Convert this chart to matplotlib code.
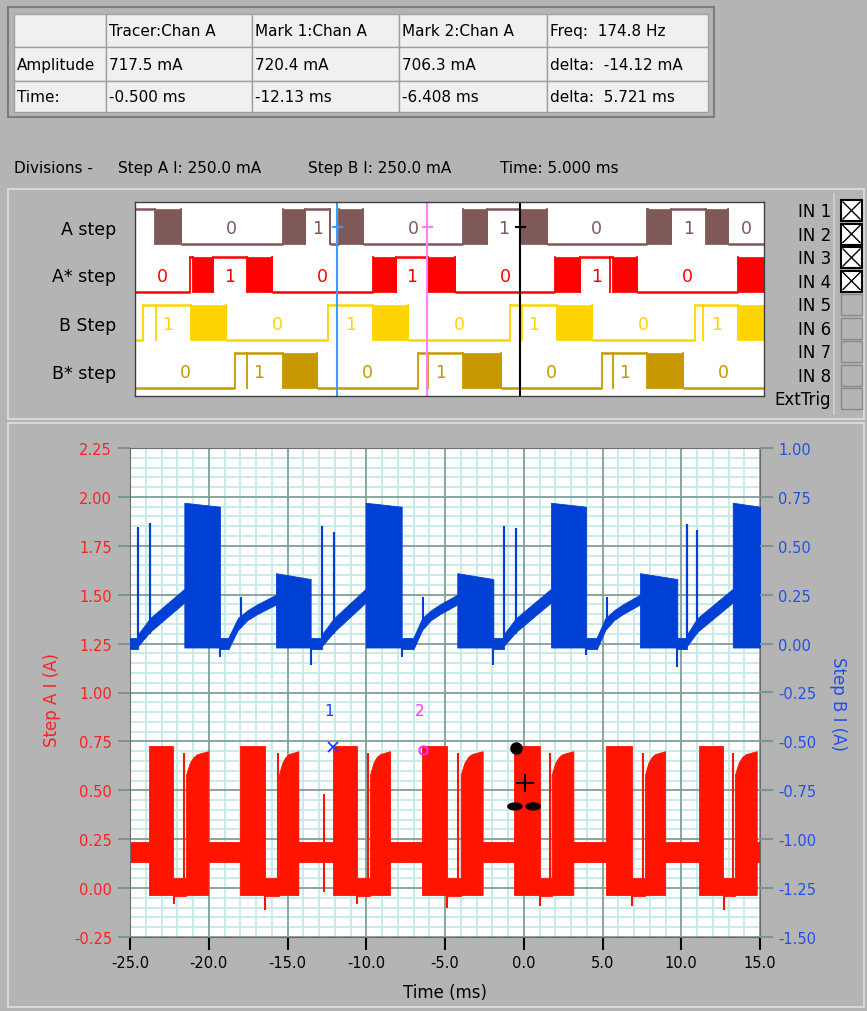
import matplotlib.pyplot as plt
import numpy as np
from matplotlib.patches import Rectangle, Ellipse
from matplotlib.ticker import MultipleLocator, FormatStrFormatter

W, H = 867, 1012
plt.rcParams['font.family'] = 'DejaVu Sans'

# readout table
col_head = ["", "Tracer:Chan A", "Mark 1:Chan A", "Mark 2:Chan A", "Freq:  174.8 Hz"]
amp_row = ["Amplitude", "717.5 mA", "720.4 mA", "706.3 mA", "delta:  -14.12 mA"]
time_row = ["Time:", "-0.500 ms", "-12.13 ms", "-6.408 ms", "delta:  5.721 ms"]
div_text = ["Divisions -", "Step A I: 250.0 mA", "Step B I: 250.0 mA", "Time: 5.000 ms"]

# cursors (ms, A)
tracer_t, tracer_amp = -0.5, 0.7175
mark1_t, mark1_amp = -12.13, 0.7204
mark2_t, mark2_amp = -6.408, 0.7063

# digital lines: (start ms, end ms, state)  L=low, H=high, F=fast toggling
row_names = ["A step", "A* step", "B Step", "B* step"]
a_step = [(-25.0, -23.73, 'H'), (-23.73, -22.07, 'F'), (-22.07, -15.61, 'L'), (-15.61, -14.19, 'F'),
          (-14.19, -12.6, 'H'), (-12.6, -12.03, 'L'), (-12.03, -10.52, 'F'), (-10.52, -4.12, 'L'),
          (-4.12, -2.63, 'F'), (-2.63, -0.52, 'H'), (-0.52, 1.18, 'F'), (1.18, 7.54, 'L'),
          (7.54, 7.62, 'H'), (7.62, 9.07, 'F'), (9.07, 11.31, 'H'), (11.31, 12.71, 'F'), (12.71, 15.0, 'L')]
a_step_glitch = [-12.6]
a_star = [(-25.0, -21.5, 'L'), (-21.5, -21.29, 'H'), (-21.29, -20.02, 'F'), (-20.02, -17.9, 'H'),
          (-17.9, -16.31, 'F'), (-16.31, -9.88, 'L'), (-9.88, -8.4, 'F'), (-8.4, -6.37, 'H'),
          (-6.37, -4.65, 'F'), (-4.65, 1.71, 'L'), (1.71, 3.3, 'F'), (3.3, 5.38, 'H'),
          (5.38, 6.94, 'F'), (6.94, 13.37, 'L'), (13.37, 15.0, 'F')]
a_star_glitch = [5.21]
b_step = [(-25.0, -24.47, 'L'), (-24.47, -21.44, 'H'), (-21.44, -19.21, 'F'), (-19.21, -12.71, 'L'),
          (-12.71, -9.88, 'H'), (-9.88, -7.62, 'F'), (-7.62, -1.15, 'L'), (-1.15, 1.82, 'H'),
          (1.82, 4.08, 'F'), (4.08, 10.61, 'L'), (10.61, 13.37, 'H'), (13.37, 15.0, 'F')]
b_step_glitch = [-23.66, -0.41, 11.14]
b_star = [(-25.0, -18.64, 'L'), (-18.64, -15.61, 'H'), (-15.61, -13.45, 'F'), (-13.45, -6.98, 'L'),
          (-6.98, -4.12, 'H'), (-4.12, -1.72, 'F'), (-1.72, 4.68, 'L'), (4.68, 7.54, 'H'),
          (7.54, 9.87, 'F'), (9.87, 15.0, 'L')]
b_star_glitch = [-17.9, -6.35, 5.38]

in_labels = ["IN 1", "IN 2", "IN 3", "IN 4", "IN 5", "IN 6", "IN 7", "IN 8", "ExtTrig"]
in_checked = [True, True, True, True, False, False, False, False, False]

# Step A current (left axis, A)
red_on = [-23.79, -18.02, -12.09, -6.48, -0.62, 5.20, 11.15]
red_off = [-22.25, -16.43, -10.61, -4.89, 1.03, 6.85, 12.67]
red_thin = [-21.55, -15.62, -9.87, -4.16, 1.67, 7.60, 13.30]
red_fin_on = [-21.44, -15.54, -9.76, -4.00, 1.77, 7.70, 13.41]
red_fin_off = [-20.03, -14.31, -8.49, -2.61, 3.15, 8.97, 14.79]
red_fin_top = [0.58, 0.64, 0.67, 0.685, 0.69, 0.695, 0.70]
red_block_top, red_block_bot = 0.725, -0.035
red_base_top, red_base_bot = 0.235, 0.135
red_gap_top, red_gap_bot = 0.05, -0.04
red_dip_t = [-22.2, -16.4, -10.6, -4.9, 1.0, 6.9, 12.7]
red_dip_lo = [-0.08, -0.11, -0.08, -0.10, -0.09, -0.09, -0.11]
red_spike_t, red_spike_top = [-12.68], [0.48]

# Step B current (right axis, A)
blue_spike1_t = [-24.47, -12.79, -1.25, 10.39]
blue_spike1_top = [0.595, 0.60, 0.60, 0.61]
blue_spike2_t = [-23.73, -12.05, -0.49, 11.02]
blue_spike2_top = [0.615, 0.57, 0.59, 0.58]
blue_big_on = [-21.55, -10.04, 1.73, 13.27]
blue_big_off = [-19.29, -7.75, 3.95, 15.0]
blue_mid_on = [-15.73, -4.22, 7.38]
blue_mid_off = [-13.53, -1.93, 9.75]
blue_ramp2_on = [-18.76, -7.01, 4.63]
blue_big_top = [0.72, 0.70]
blue_mid_top = [0.36, 0.33]
blue_block_bot = -0.02
blue_ramp1_top = [0.05, 0.13, 0.28]
blue_ramp1_bot = [-0.01, 0.06, 0.21]
blue_ramp2_top = [0.03, 0.13, 0.17, 0.20, 0.225, 0.25]
blue_ramp2_bot = [-0.03, 0.07, 0.12, 0.15, 0.175, 0.20]
blue_low_top, blue_low_bot = 0.03, -0.03
blue_dip_t = [-19.29, -13.53, -7.75, -1.93, 3.95, 9.75]
blue_dip_lo = [-0.07, -0.11, -0.07, -0.11, -0.06, -0.12]
blue_small_t = [-17.95, -6.38, 5.27]

BG = '#b4b4b4'
RED = '#ff1400'
BLUE = '#0040d4'
GRID_MAJ = '#819e98'
GRID_MIN = '#c5e9e9'

fig = plt.figure(figsize=(W / 100, H / 100), dpi=100, facecolor=BG)


def px_axes(x0, y0, x1, y1, **kw):
    return fig.add_axes([x0 / W, 1 - y1 / H, (x1 - x0) / W, (y1 - y0) / H], **kw)


bg = px_axes(0, 0, W, H)
bg.set_xlim(0, W)
bg.set_ylim(H, 0)
bg.axis('off')
bg.set_zorder(0)

# table
bg.add_patch(Rectangle((8, 8), 706, 110, facecolor=BG, edgecolor='#7c7c7c', lw=1.5))
col_x = [14, 106, 252, 399, 547, 708]
row_y = [15, 48, 82, 113]
for r, row in enumerate([col_head, amp_row, time_row]):
    for c, txt in enumerate(row):
        bg.add_patch(Rectangle((col_x[c], row_y[r]), col_x[c + 1] - col_x[c], row_y[r + 1] - row_y[r],
                               facecolor='#f0f0f0', edgecolor='#a0a0a0', lw=1))
        bg.text(col_x[c] + 3, (row_y[r] + row_y[r + 1]) / 2, txt, va='center', ha='left', fontsize=11)

for x, txt in zip([14, 118, 308, 500], div_text):
    bg.text(x, 168, txt, va='center', ha='left', fontsize=11)

# panel frames
bg.add_patch(Rectangle((8, 190), 856, 230, fill=False, edgecolor='#d8d8d8', lw=1.5))
bg.add_patch(Rectangle((8, 424), 856, 584, fill=False, edgecolor='#d8d8d8', lw=1.5))
bg.plot([834, 834], [195, 415], color='#d0d0d0', lw=1.2)

for name, y in zip(row_names, [230, 277, 326, 374]):
    bg.text(116, y, name, ha='right', va='center', fontsize=12.5)

for i, (lab, chk) in enumerate(zip(in_labels, in_checked)):
    y = 212 + i * 23.5
    bg.text(831, y, lab, ha='right', va='center', fontsize=12)
    if chk:
        bg.add_patch(Rectangle((841, y - 11), 21, 21, facecolor='white', edgecolor='black', lw=1.5))
        bg.plot([843, 860], [y - 9, y + 8], color='black', lw=1)
        bg.plot([843, 860], [y + 8, y - 9], color='black', lw=1)
    else:
        bg.add_patch(Rectangle((841, y - 11), 21, 21, facecolor=BG, edgecolor='#8a8a8a', lw=1))

# digital panel
dg = px_axes(135, 203, 764, 397)
dg.set_zorder(2)
dg.set_facecolor('white')
dg.set_xlim(-25, 15)
dg.set_ylim(194, 0)
dg.set_xticks([])
dg.set_yticks([])
for s in dg.spines.values():
    s.set_color('#404040')
    s.set_linewidth(1)

rows = [(a_step, a_step_glitch, '#7f5858'), (a_star, a_star_glitch, '#ff0000'),
        (b_step, b_step_glitch, '#ffd500'), (b_star, b_star_glitch, '#c89800')]
for r, (segs, glitches, col) in enumerate(rows):
    hi, lo = 7 + 48 * r, 42 + 48 * r
    mid = (hi + lo) / 2
    prev = None
    for t0, t1, st in segs:
        if st == 'F':
            dg.fill_between([t0, t1], hi, lo, color=col, lw=0.5)
        else:
            y = lo if st == 'L' else hi
            dg.plot([t0, t1], [y, y], color=col, lw=1.8, solid_capstyle='butt')
            if t1 - t0 > 1.4:
                dg.text((t0 + t1) / 2, mid + 1, '0' if st == 'L' else '1', color=col,
                        ha='center', va='center', fontsize=12.5)
        if prev is not None and prev != st:
            dg.plot([t0, t0], [hi, lo], color=col, lw=1.3)
        prev = st
    for g in glitches:
        dg.plot([g, g], [hi, lo], color=col, lw=1.3)

for t, col in [(mark1_t, '#3d9dff'), (mark2_t, '#ff80ff'), (tracer_t, '#000000')]:
    dg.axvline(t, color=col, lw=1.5)
    dg.plot([t - 0.3, t + 0.3], [25, 25], color=col, lw=1.5)

# main graph
ax = px_axes(130, 449, 760, 938)
ax.set_zorder(2)
ax.set_facecolor('white')
ax.set_xlim(-25, 15)
ax.set_ylim(-0.25, 2.25)
ax.set_xticks(np.arange(-25, 15.1, 5))
ax.set_yticks(np.arange(-0.25, 2.26, 0.25))
ax.xaxis.set_major_formatter(FormatStrFormatter('%.1f'))
ax.yaxis.set_major_formatter(FormatStrFormatter('%.2f'))
ax.xaxis.set_minor_locator(MultipleLocator(1))
ax.yaxis.set_minor_locator(MultipleLocator(0.05))
ax.set_axisbelow(True)
ax.grid(which='minor', color=GRID_MIN, lw=1.3)
# major grid drawn on top of the minor one
for t in ax.get_xticks():
    ax.axvline(t, color=GRID_MAJ, lw=1.3, zorder=0.7)
for v in ax.get_yticks():
    ax.axhline(v, color=GRID_MAJ, lw=1.3, zorder=0.7)
ax.tick_params(which='minor', length=0)
ax.tick_params(axis='y', color='#7a9690', labelcolor='#ff2020', length=9, width=1.5, pad=4, labelsize=10.5)
ax.tick_params(axis='x', color='black', length=9, width=1.5, pad=4, labelsize=10.5)
for s in ax.spines.values():
    s.set_color('#6d6d6d')

ax2 = ax.twinx()
ax2.set_ylim(-1.5, 1.0)
ax2.set_yticks(np.arange(-1.5, 1.01, 0.25))
ax2.yaxis.set_major_formatter(FormatStrFormatter('%.2f'))
ax2.tick_params(axis='y', color='#7a9690', labelcolor='#2050e8', length=9, width=1.5, pad=4, labelsize=10.5)
for s in ax2.spines.values():
    s.set_visible(False)


def band(a, t0, t1, top, bot, col):
    a.fill_between([t0, t1], bot, top, color=col, lw=0.6)


# red trace
for t0, t1 in zip([-25.0] + red_fin_off, red_on + [15.0]):
    band(ax, t0, t1, red_base_top, red_base_bot, RED)
for i in range(len(red_on)):
    band(ax, red_on[i], red_off[i], red_block_top, red_block_bot, RED)
    band(ax, red_off[i], red_fin_on[i], red_gap_top, red_gap_bot, RED)
    tt = np.linspace(red_fin_on[i], red_fin_off[i], len(red_fin_top))
    ax.fill_between(tt, red_block_bot, red_fin_top, color=RED, lw=0.6)
ax.vlines(red_thin, red_block_bot, 0.69, color=RED, lw=1.5)
ax.vlines(red_dip_t, red_dip_lo, red_block_bot, color=RED, lw=1.5)
ax.vlines(red_spike_t, -0.02, red_spike_top, color=RED, lw=1.5)

# blue trace
low_start = [-25.0] + blue_big_off[:3] + blue_mid_off
low_end = [blue_spike1_t[0]] + blue_ramp2_on + blue_spike1_t[1:]
for t0, t1 in zip(low_start, low_end):
    band(ax2, t0, t1, blue_low_top, blue_low_bot, BLUE)
for i in range(len(blue_big_on)):
    tt = [blue_spike1_t[i], blue_spike2_t[i], blue_big_on[i]]
    ax2.fill_between(tt, blue_ramp1_bot, blue_ramp1_top, color=BLUE, lw=0.6)
    ax2.fill_between([blue_big_on[i], blue_big_off[i]], blue_block_bot, blue_big_top, color=BLUE, lw=0.6)
for i in range(len(blue_mid_on)):
    tt = np.linspace(blue_ramp2_on[i], blue_mid_on[i], len(blue_ramp2_top))
    ax2.fill_between(tt, blue_ramp2_bot, blue_ramp2_top, color=BLUE, lw=0.6)
    ax2.fill_between([blue_mid_on[i], blue_mid_off[i]], blue_block_bot, blue_mid_top, color=BLUE, lw=0.6)
ax2.vlines(blue_spike1_t, 0.0, blue_spike1_top, color=BLUE, lw=1.6)
ax2.vlines(blue_spike2_t, 0.05, blue_spike2_top, color=BLUE, lw=1.6)
ax2.vlines(blue_dip_t, blue_dip_lo, blue_block_bot, color=BLUE, lw=1.5)
ax2.vlines(blue_small_t, 0.08, 0.24, color=BLUE, lw=1.5)

# cursor marks on the graph
ax.plot(mark1_t, mark1_amp, marker='x', color='#2040ff', ms=7, mew=1.3, zorder=5)
ax.text(mark1_t - 0.25, mark1_amp + 0.19, '1', color='#2040ff', ha='center', va='center', fontsize=11, zorder=5)
ax.plot(mark2_t, mark2_amp, marker='o', mfc='none', mec='#ff30ff', ms=6, mew=1.5, zorder=5)
ax.text(mark2_t - 0.2, mark2_amp + 0.2, '2', color='#ff30ff', ha='center', va='center', fontsize=11, zorder=5)
ax.plot(tracer_t, tracer_amp, marker='o', color='black', ms=8, zorder=5)
ax.plot(tracer_t + 0.58, tracer_amp - 0.18, marker='+', color='black', ms=13, mew=1.5, zorder=5)
for dt in [-0.06, 1.1]:
    ax.add_patch(Ellipse((tracer_t + dt, tracer_amp - 0.30), 0.9, 0.035, color='black', zorder=5))

bg.text(445, 993, 'Time (ms)', ha='center', va='center', fontsize=12)
bg.text(52, 700, 'Step A I (A)', rotation=90, ha='center', va='center', fontsize=12, color='#ff2020')
bg.text(838, 704, 'Step B I (A)', rotation=270, ha='center', va='center', fontsize=12, color='#2050e8')

fig.savefig('out.png', dpi=100, facecolor=BG)
